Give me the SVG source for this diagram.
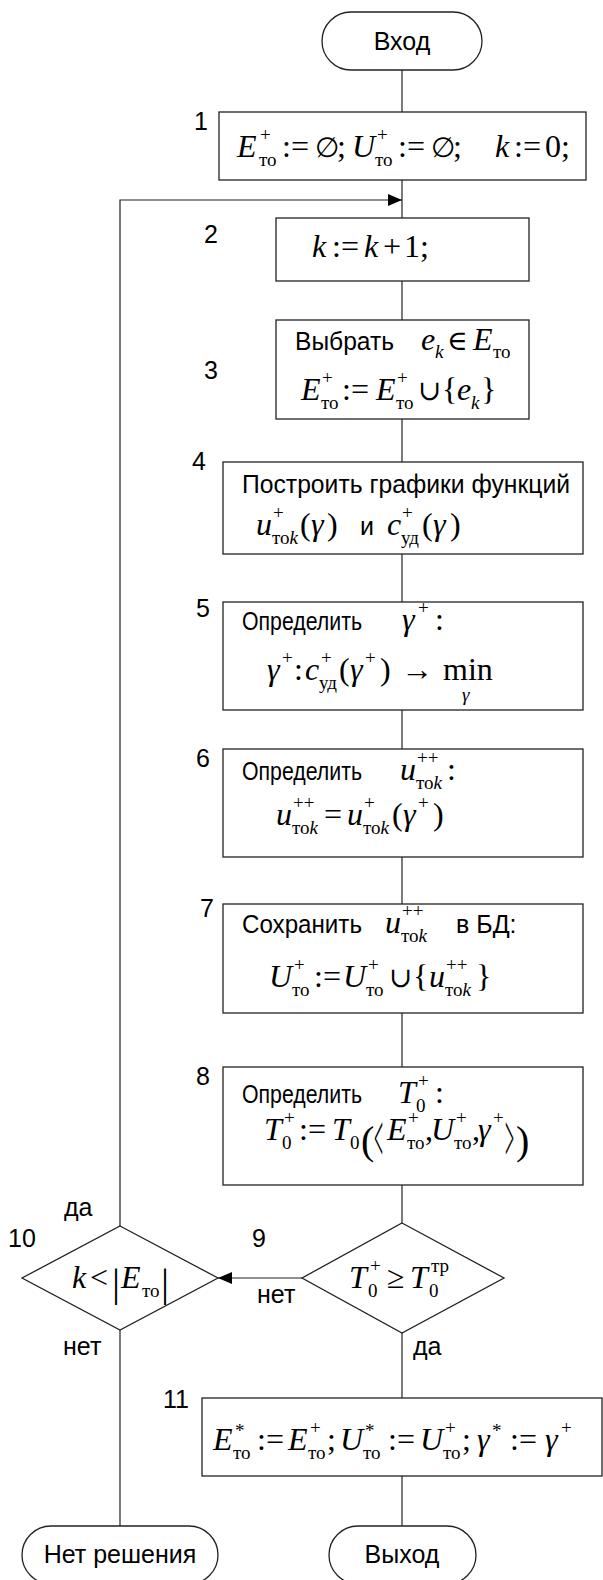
<svg xmlns="http://www.w3.org/2000/svg" width="603" height="1580" viewBox="0 0 603 1580">
<defs>
<style>
.n{fill:#fff;stroke:#222;stroke-width:1.3}
.c{fill:none;stroke:#222;stroke-width:1.2}
.t{font-family:"Liberation Sans",Arial,sans-serif;font-size:25px;fill:#000}
.m{font-family:"Liberation Serif","Times New Roman","DejaVu Serif",serif;font-size:32px;fill:#000}
.i{font-style:italic}
.s{font-size:19px}
.b{font-size:40px}
.y{font-size:28px}
</style>
<marker id="ah" markerUnits="userSpaceOnUse" markerWidth="14" markerHeight="12" refX="14" refY="6" orient="auto">
<path d="M0,0 L14,6 L0,12 z" fill="#000"/>
</marker>
</defs>
<rect width="603" height="1580" fill="#fff"/>

<g id="connectors">
<line class="c" x1="402" y1="70" x2="402" y2="112"/>
<line class="c" x1="402" y1="180" x2="402" y2="218"/>
<line class="c" x1="402" y1="281" x2="402" y2="320"/>
<line class="c" x1="402" y1="419" x2="402" y2="462"/>
<line class="c" x1="402" y1="554" x2="402" y2="602"/>
<line class="c" x1="402" y1="710" x2="402" y2="749"/>
<line class="c" x1="402" y1="857" x2="402" y2="904"/>
<line class="c" x1="402" y1="1013" x2="402" y2="1067"/>
<line class="c" x1="402" y1="1185" x2="402" y2="1223"/>
<line class="c" x1="402" y1="1333" x2="402" y2="1398"/>
<line class="c" x1="402" y1="1476" x2="402" y2="1526"/>
<line class="c" x1="120" y1="1330" x2="120" y2="1526"/>
<polyline class="c" points="120,1226 120,200 402,200" marker-end="url(#ah)"/>
<line class="c" x1="302" y1="1278" x2="218" y2="1278" marker-end="url(#ah)"/>
<text class="t" x="64" y="1216">да</text>
<text class="t" x="257" y="1303">нет</text>
<text class="t" x="63" y="1355">нет</text>
<text class="t" x="413" y="1355">да</text>
</g>

<g id="start">
<rect class="n" x="322" y="12" width="160" height="58" rx="29" ry="29"/>
<text class="t" x="402" y="50" text-anchor="middle">Вход</text>
</g>

<g id="n1">
<rect class="n" x="219" y="112" width="367" height="68"/>
<text class="t" x="194" y="130">1</text>
<text class="m">
<tspan class="i" x="237" y="157">E</tspan><tspan class="s" x="260" y="141">+</tspan><tspan class="s" x="259" y="166">то</tspan>
<tspan x="282" y="157">:=</tspan><tspan class="y" x="315" y="157">∅</tspan><tspan x="337" y="157">;</tspan>
<tspan class="i" x="352" y="157">U</tspan><tspan class="s" x="377" y="141">+</tspan><tspan class="s" x="375" y="166">то</tspan>
<tspan x="398" y="157">:=</tspan><tspan class="y" x="431" y="157">∅</tspan><tspan x="453" y="157">;</tspan>
<tspan class="i" x="495" y="157">k</tspan><tspan x="514" y="157">:=</tspan><tspan x="545" y="157">0;</tspan>
</text>
</g>

<g id="n2">
<rect class="n" x="276" y="218" width="253" height="63"/>
<text class="t" x="204" y="243">2</text>
<text class="m">
<tspan class="i" x="312" y="257">k</tspan><tspan x="332" y="257">:=</tspan><tspan class="i" x="364" y="257">k</tspan><tspan x="383" y="257">+</tspan><tspan x="404" y="257">1;</tspan>
</text>
</g>

<g id="n3">
<rect class="n" x="276" y="320" width="253" height="99"/>
<text class="t" x="204" y="379">3</text>
<text class="t" x="295" y="350" textLength="99" lengthAdjust="spacingAndGlyphs">Выбрать</text>
<text class="m">
<tspan class="i" x="421" y="350">e</tspan><tspan class="s i" x="435" y="358">k</tspan>
<tspan class="y" x="447" y="350">∈</tspan>
<tspan class="i" x="473" y="350">E</tspan><tspan class="s" x="493" y="358">то</tspan>
</text>
<text class="m">
<tspan class="i" x="301" y="400">E</tspan><tspan class="s" x="322" y="384">+</tspan><tspan class="s" x="321" y="409">то</tspan>
<tspan x="342" y="400">:=</tspan>
<tspan class="i" x="376" y="400">E</tspan><tspan class="s" x="397" y="384">+</tspan><tspan class="s" x="396" y="409">то</tspan>
<tspan class="y" x="418" y="400">∪</tspan><tspan x="442" y="400">{</tspan><tspan class="i" x="457" y="400">e</tspan><tspan class="s i" x="471" y="409">k</tspan><tspan x="481" y="400">}</tspan>
</text>
</g>

<g id="n4">
<rect class="n" x="223" y="462" width="360" height="92"/>
<text class="t" x="192" y="470">4</text>
<text class="t" x="242" y="493" textLength="328" lengthAdjust="spacingAndGlyphs">Построить графики функций</text>
<text class="m">
<tspan class="i" x="256" y="535">u</tspan><tspan class="s" x="273" y="519">+</tspan><tspan class="s" x="272" y="544">то</tspan><tspan class="s i">k</tspan>
<tspan x="300" y="535">(</tspan><tspan class="i" x="311" y="535">γ</tspan><tspan x="327" y="535">)</tspan>
<tspan class="i" x="387" y="535">c</tspan><tspan class="s" x="402" y="519">+</tspan><tspan class="s" x="401" y="544">уд</tspan>
<tspan x="422" y="535">(</tspan><tspan class="i" x="433" y="535">γ</tspan><tspan x="450" y="535">)</tspan>
</text>
<text class="t" x="360" y="535">и</text>
</g>

<g id="n5">
<rect class="n" x="223" y="602" width="360" height="108"/>
<text class="t" x="196" y="617">5</text>
<text class="t" x="242" y="630" textLength="120" lengthAdjust="spacingAndGlyphs">Определить</text>
<text class="m">
<tspan class="i" x="402" y="630">γ</tspan><tspan class="s" x="418" y="614">+</tspan><tspan x="435" y="630">:</tspan>
</text>
<text class="m">
<tspan class="i" x="267" y="680">γ</tspan><tspan class="s" x="282" y="664">+</tspan><tspan x="294" y="680">:</tspan>
<tspan class="i" x="305" y="680">c</tspan><tspan class="s" x="321" y="664">+</tspan><tspan class="s" x="319" y="689">уд</tspan>
<tspan x="339" y="680">(</tspan><tspan class="i" x="350" y="680">γ</tspan><tspan class="s" x="365" y="664">+</tspan><tspan x="380" y="680">)</tspan>
<tspan x="401" y="680">→</tspan><tspan x="443" y="680">min</tspan>
<tspan class="s i" x="462" y="701">γ</tspan>
</text>
</g>

<g id="n6">
<rect class="n" x="223" y="749" width="360" height="108"/>
<text class="t" x="196" y="767">6</text>
<text class="t" x="242" y="780" textLength="120" lengthAdjust="spacingAndGlyphs">Определить</text>
<text class="m">
<tspan class="i" x="400" y="780">u</tspan><tspan class="s" x="417" y="764">++</tspan><tspan class="s" x="416" y="789">то</tspan><tspan class="s i">k</tspan><tspan x="447" y="780">:</tspan>
</text>
<text class="m">
<tspan class="i" x="276" y="825">u</tspan><tspan class="s" x="293" y="809">++</tspan><tspan class="s" x="292" y="834">то</tspan><tspan class="s i">k</tspan>
<tspan x="324" y="825">=</tspan>
<tspan class="i" x="347" y="825">u</tspan><tspan class="s" x="364" y="809">+</tspan><tspan class="s" x="363" y="834">то</tspan><tspan class="s i">k</tspan>
<tspan x="392" y="825">(</tspan><tspan class="i" x="403" y="825">γ</tspan><tspan class="s" x="418" y="809">+</tspan><tspan x="433" y="825">)</tspan>
</text>
</g>

<g id="n7">
<rect class="n" x="223" y="904" width="360" height="109"/>
<text class="t" x="200" y="917">7</text>
<text class="t" x="242" y="933" textLength="120" lengthAdjust="spacingAndGlyphs">Сохранить</text>
<text class="m">
<tspan class="i" x="385" y="933">u</tspan><tspan class="s" x="402" y="917">++</tspan><tspan class="s" x="401" y="942">то</tspan><tspan class="s i">k</tspan>
</text>
<text class="t" x="456" y="933">в БД:</text>
<text class="m">
<tspan class="i" x="269" y="987">U</tspan><tspan class="s" x="294" y="971">+</tspan><tspan class="s" x="292" y="996">то</tspan>
<tspan x="314" y="987">:=</tspan>
<tspan class="i" x="343" y="987">U</tspan><tspan class="s" x="368" y="971">+</tspan><tspan class="s" x="366" y="996">то</tspan>
<tspan class="y" x="389" y="987">∪</tspan><tspan x="413" y="987">{</tspan><tspan class="i" x="429" y="987">u</tspan><tspan class="s" x="446" y="971">++</tspan><tspan class="s" x="445" y="996">то</tspan><tspan class="s i">k</tspan><tspan x="476" y="987">}</tspan>
</text>
</g>

<g id="n8">
<rect class="n" x="223" y="1067" width="360" height="118"/>
<text class="t" x="196" y="1085">8</text>
<text class="t" x="242" y="1103" textLength="120" lengthAdjust="spacingAndGlyphs">Определить</text>
<text class="m">
<tspan class="i" x="398" y="1103">T</tspan><tspan class="s" x="418" y="1087">+</tspan><tspan class="s" x="416" y="1112">0</tspan><tspan x="435" y="1103">:</tspan>
</text>
<text class="m">
<tspan class="i" x="264" y="1140">T</tspan><tspan class="s" x="284" y="1124">+</tspan><tspan class="s" x="282" y="1149">0</tspan>
<tspan x="299" y="1140">:=</tspan>
<tspan class="i" x="332" y="1140">T</tspan><tspan class="s" x="350" y="1149">0</tspan>
<tspan class="b" x="361" y="1154">(</tspan>
<tspan class="i" x="387" y="1140">E</tspan><tspan class="s" x="408" y="1124">+</tspan><tspan class="s" x="407" y="1149">то</tspan><tspan x="425" y="1140">,</tspan>
<tspan class="i" x="431" y="1140">U</tspan><tspan class="s" x="456" y="1124">+</tspan><tspan class="s" x="454" y="1149">то</tspan><tspan x="472" y="1140">,</tspan>
<tspan class="i" x="478" y="1140">γ</tspan><tspan class="s" x="493" y="1124">+</tspan>
<tspan class="b" x="516" y="1154">)</tspan>
</text>
<text class="m" transform="translate(374 1161) scale(0.5 2.1)">&lt;</text>
<text class="m" transform="translate(505 1161) scale(0.5 2.1)">&gt;</text>
</g>

<g id="n9">
<polygon class="n" points="402,1223 504,1278 402,1333 302,1278"/>
<text class="t" x="252" y="1247">9</text>
<text class="m">
<tspan class="i" x="349" y="1288">T</tspan><tspan class="s" x="370" y="1272">+</tspan><tspan class="s" x="368" y="1297">0</tspan>
<tspan x="387" y="1288">≥</tspan>
<tspan class="i" x="410" y="1288">T</tspan><tspan class="s" x="431" y="1272">тр</tspan><tspan class="s" x="429" y="1297">0</tspan>
</text>
</g>

<g id="n10">
<polygon class="n" points="120,1226 218,1278 120,1330 22,1278"/>
<text class="t" x="8" y="1247">10</text>
<text class="m">
<tspan class="i" x="72" y="1288">k</tspan><tspan x="90" y="1288">&lt;</tspan>
<tspan class="b" x="112" y="1296">|</tspan>
<tspan class="i" x="121" y="1288">E</tspan><tspan class="s" x="142" y="1297">то</tspan>
<tspan class="b" x="161" y="1296">|</tspan>
</text>
</g>

<g id="n11">
<rect class="n" x="202" y="1398" width="400" height="78"/>
<text class="t" x="163" y="1408">11</text>
<text class="m">
<tspan class="i" x="213" y="1450">E</tspan><tspan class="s" x="235" y="1437">*</tspan><tspan class="s" x="233" y="1459">то</tspan>
<tspan x="257" y="1450">:=</tspan>
<tspan class="i" x="288" y="1450">E</tspan><tspan class="s" x="310" y="1434">+</tspan><tspan class="s" x="308" y="1459">то</tspan><tspan x="327" y="1450">;</tspan>
<tspan class="i" x="340" y="1450">U</tspan><tspan class="s" x="365" y="1437">*</tspan><tspan class="s" x="363" y="1459">то</tspan>
<tspan x="388" y="1450">:=</tspan>
<tspan class="i" x="420" y="1450">U</tspan><tspan class="s" x="445" y="1434">+</tspan><tspan class="s" x="443" y="1459">то</tspan><tspan x="462" y="1450">;</tspan>
<tspan class="i" x="477" y="1450">γ</tspan><tspan class="s" x="492" y="1437">*</tspan>
<tspan x="510" y="1450">:=</tspan>
<tspan class="i" x="545" y="1450">γ</tspan><tspan class="s" x="561" y="1434">+</tspan>
</text>
</g>

<g id="end-fail">
<rect class="n" x="22" y="1526" width="196" height="58" rx="29" ry="29"/>
<text class="t" x="120" y="1563" text-anchor="middle">Нет решения</text>
</g>

<g id="end">
<rect class="n" x="329" y="1526" width="147" height="58" rx="29" ry="29"/>
<text class="t" x="402" y="1563" text-anchor="middle">Выход</text>
</g>
</svg>
